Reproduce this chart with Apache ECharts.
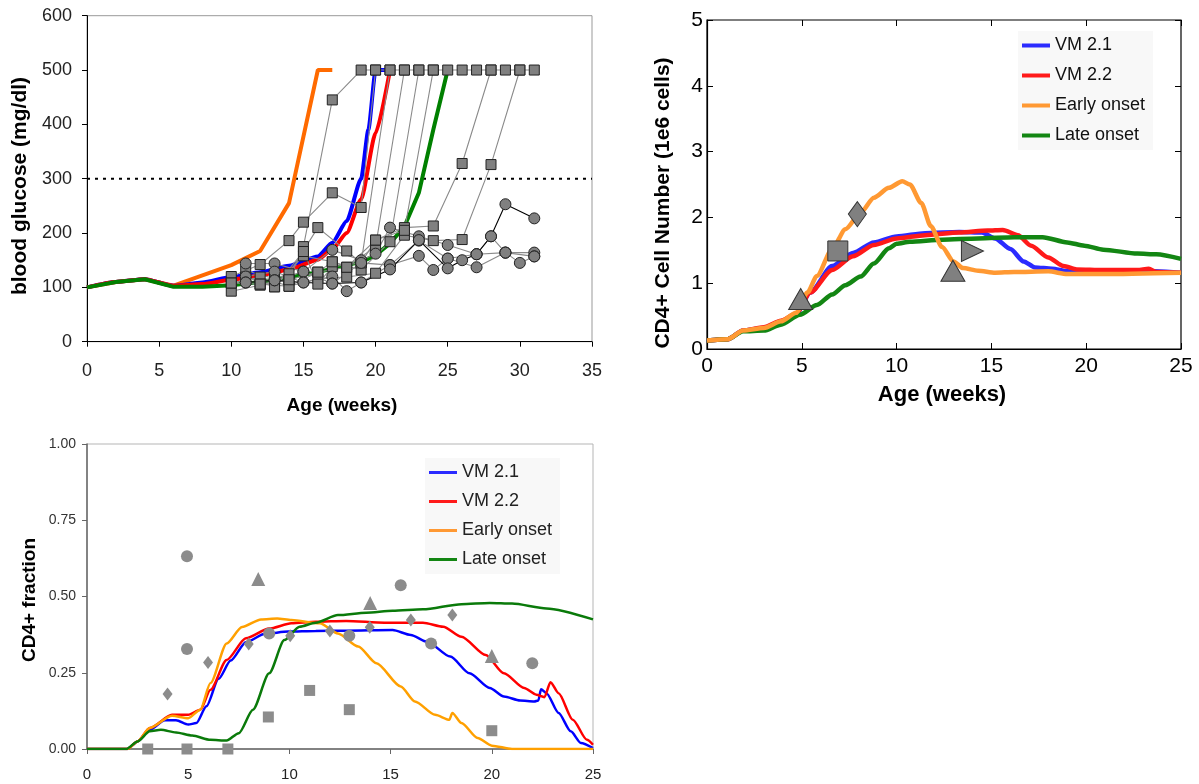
<!DOCTYPE html>
<html><head><meta charset="utf-8">
<script src="https://cdn.jsdelivr.net/npm/echarts@6/dist/echarts.min.js"></script>
<style>html,body{margin:0;padding:0;background:#fff}#c{width:1199px;height:784px}</style>
</head><body><div id="c"></div>
<script>
// ================= DATA =================
// Panel 1: blood glucose (mg/dl) vs age (weeks)
const threshold = [[0, 300], [35, 300]];
const gOrange = [[0,100],[2,110],[4,115],[6,103],[8,122],[10,141],[12,167],[14,255],[16,500],[17,500]];
const gBlue = [[0,100],[2,110],[4,115],[6,103],[8,109],[10,119],[12,128],[14,140],[16,157],[17,182],[18,222],[19,300],[19.5,390],[20,500],[21,500]];
const gRed = [[0,100],[2,110],[4,115],[6,103],[8,106],[10,114],[12,122],[14,133],[16,151],[17,170],[18,200],[19,262],[20,384],[21,500]];
const gGreen = [[0,100],[2,110],[4,115],[6,101],[8,101],[10,104],[12,110],[14,118],[16,128],[18,141],[19,147],[20,159],[21,181],[22,212],[23,274],[24,390],[25,500]];

// individual mice (square markers)
const mouseSqA = [[10,93],[12,104],[14,114],[15,175],[17,445],[19,500],[20,500],[21,500],[22,500],[23,500],[24,500],[25,500],[26,500],[27,500],[28,500],[29,500],[30,500],[31,500]];
const mouseSqB = [[10,120],[12,142],[14,186],[15,220],[17,274],[19,247],[20,500]];
const mouseSqC = [[11,131],[13,116],[14,125],[16,210],[18,167],[19,145],[21,500]];
const mouseSqD = [[10,108],[12,119],[14,102],[16,128],[18,137],[20,175],[22,500]];
const mouseSqE = [[11,119],[13,101],[15,158],[17,147],[19,132],[21,184],[23,500]];
const mouseSqF = [[12,106],[14,102],[16,116],[18,119],[20,126],[22,196],[24,186],[26,188],[28,326],[30,500]];
const mouseSqG = [[13,101],[15,166],[16,106],[17,138],[19,145],[20,187],[22,210],[24,213],[26,328],[28,500]];
const mouseSqH = [[10,108],[12,106],[14,114],[16,128],[17,147],[18,137],[20,187],[22,205],[24,500]];
// individual mice (circle markers)
const mouseCiA = [[11,109],[13,113],[15,109],[17,107],[19,109],[21,133],[23,187],[25,135],[26,150],[27,161],[28,194],[29,253],[31,227]];
const mouseCiB = [[11,144],[13,144],[15,129],[17,169],[19,150],[20,162],[21,210],[23,194],[25,178],[27,161],[29,164],[31,164]];
const mouseCiC = [[11,120],[13,129],[15,109],[17,120],[18,93],[19,109],[21,141],[23,158],[24,132],[25,153],[27,137],[29,164],[30,145],[31,157]];
const mouseCiD = [[11,109],[13,113],[15,129],[17,107],[19,145],[21,141],[23,186],[25,153],[27,161],[28,194],[29,164],[31,157]];

// Panel 2: CD4+ cell number (1e6 cells)
const cBlue = [[0,0.13],[1.1,0.15],[1.9,0.28],[3,0.32],[3.9,0.42],[4.7,0.53],[5.45,0.86],[6.6,1.26],[7.7,1.46],[8.8,1.62],[10,1.71],[11.5,1.76],[13.3,1.78],[14.5,1.77],[15.2,1.68],[16,1.52],[16.7,1.33],[17.3,1.24],[18.2,1.22],[19,1.18],[20.9,1.16],[22.7,1.19],[25,1.16]];
const cRed = [[0,0.13],[1.1,0.15],[1.9,0.28],[3,0.33],[3.9,0.43],[4.7,0.54],[5.45,0.86],[6.6,1.2],[7.7,1.41],[8.8,1.58],[10,1.68],[11.5,1.73],[13.3,1.77],[14.8,1.8],[15.6,1.81],[16.4,1.73],[17.1,1.57],[18,1.39],[18.8,1.26],[19.5,1.21],[20.9,1.2],[22.7,1.2],[23.3,1.22],[23.7,1.17],[25,1.16]];
const cOrange = [[0,0.13],[1.1,0.15],[1.9,0.28],[3,0.32],[3.9,0.42],[4.7,0.55],[5.3,0.86],[5.8,1.11],[6.6,1.52],[7.3,1.82],[8.1,2.07],[8.8,2.3],[9.6,2.45],[10.3,2.55],[10.7,2.5],[11.3,2.22],[11.8,1.87],[12.4,1.55],[13,1.33],[13.5,1.23],[14.3,1.19],[15.2,1.16],[16.2,1.17],[18,1.18],[19,1.14],[20.9,1.14],[25,1.16]];
const cGreen = [[0,0.13],[1.1,0.15],[1.9,0.27],[3,0.28],[3.9,0.37],[4.9,0.52],[5.8,0.67],[6.6,0.83],[7.3,0.97],[8.1,1.1],[8.8,1.3],[9.6,1.53],[10,1.6],[10.7,1.63],[12.4,1.66],[14.3,1.68],[16.2,1.7],[17.7,1.7],[19,1.62],[19.9,1.57],[20.9,1.51],[22.7,1.45],[23.7,1.44],[25,1.37]];
const cntTriangle = [[4.94,0.76],[12.97,1.19]];
const cntSquare = [[6.9,1.49]];
const cntDiamond = [[7.93,2.05]];
const cntRightTri = [[14.0,1.49]];

// Panel 3: CD4+ fraction
const fBlue = [[0,0],[2,0],[2.5,0.025],[3.1,0.063],[3.85,0.094],[4.4,0.094],[5,0.08],[5.4,0.085],[5.9,0.14],[6.5,0.23],[7.1,0.29],[7.85,0.35],[8.8,0.378],[9.95,0.385],[11.3,0.387],[12.8,0.388],[15.1,0.39],[16,0.374],[16.8,0.352],[17.95,0.303],[18.9,0.248],[19.9,0.2],[20.6,0.172],[21.4,0.159],[22.1,0.156],[22.3,0.159],[22.43,0.196],[22.7,0.183],[23.3,0.118],[23.9,0.058],[24.4,0.02],[25,0.003]];
const fRed = [[0,0],[2,0],[2.5,0.025],[3.1,0.069],[4.2,0.112],[5,0.112],[5.6,0.129],[6.1,0.194],[6.9,0.292],[7.85,0.363],[9,0.395],[10.1,0.412],[11.3,0.417],[12.8,0.42],[14.7,0.414],[16.6,0.414],[17.6,0.401],[18.5,0.368],[19.7,0.308],[20.6,0.248],[21.6,0.2],[22.2,0.178],[22.6,0.17],[22.9,0.219],[23.3,0.183],[24,0.096],[24.7,0.03],[25,0.014]];
const fOrange = [[0,0],[2,0],[2.5,0.025],[3.1,0.069],[4.2,0.109],[5,0.101],[5.6,0.129],[6.1,0.216],[6.9,0.346],[7.66,0.4],[8.6,0.425],[9.4,0.428],[10.1,0.423],[11.5,0.412],[12.4,0.379],[13.4,0.336],[14.3,0.281],[15.5,0.205],[16.2,0.156],[17.2,0.112],[17.9,0.096],[18.05,0.118],[18.5,0.085],[19.3,0.036],[20,0.011],[21,0],[25,0]];
const fGreen = [[0,0],[1.95,0],[2.5,0.025],[3.1,0.058],[3.65,0.063],[4.4,0.054],[5.2,0.044],[6.1,0.03],[6.9,0.028],[7.5,0.052],[8.2,0.129],[9,0.248],[9.75,0.357],[10.5,0.401],[11.3,0.414],[12.4,0.439],[13.8,0.447],[15.1,0.453],[16.6,0.458],[18.5,0.475],[19.9,0.479],[21,0.477],[22.7,0.461],[25,0.425]];
const fracCircle = [[4.94,0.632],[4.94,0.328],[9,0.379],[12.96,0.371],[15.5,0.537],[17,0.346],[22,0.281]];
const fracDiamond = [[3.98,0.18],[5.98,0.284],[7.99,0.344],[10.04,0.371],[12,0.387],[13.97,0.399],[16,0.423],[18.05,0.439]];
const fracTriangle = [[8.46,0.557],[13.99,0.479],[20,0.305]];
const fracSquare = [[3,0],[4.94,0],[6.96,0],[8.96,0.105],[11,0.192],[12.96,0.129],[20,0.06]];

const legendNames = ['VM 2.1', 'VM 2.2', 'Early onset', 'Late onset'];

// ================= CHART =================
const FONT = 'Liberation Sans, Arial, Helvetica, sans-serif';
const chart = echarts.init(document.getElementById('c'), null, {renderer: 'canvas'});

function mouseSeries(data, sym, lineColor) {
  return {
    type: 'line', xAxisIndex: 0, yAxisIndex: 0, data: data, silent: true,
    symbol: sym, symbolSize: sym === 'rect' ? 10 : 11,
    itemStyle: {color: '#808080', borderColor: '#222', borderWidth: 1},
    lineStyle: {color: lineColor, width: 1.1}, z: 5, animation: false
  };
}
function curve(name, data, color, width, xi, yi, z) {
  return {
    name: name, type: 'line', xAxisIndex: xi, yAxisIndex: yi, data: data,
    symbol: 'none', smooth: 0.25, smoothMonotone: 'x', color: color,
    lineStyle: {color: color, width: width}, itemStyle: {color: color}, z: z || 3, animation: false
  };
}
function scatter(data, sym, size, xi, yi, border, rotate) {
  return {
    type: 'scatter', xAxisIndex: xi, yAxisIndex: yi, data: data, symbol: sym, symbolSize: size,
    symbolRotate: rotate || 0,
    itemStyle: {color: border ? '#808080' : '#8c8c8c', borderColor: border ? '#333' : 'transparent', borderWidth: border ? 1 : 0, opacity: 1},
    z: 6, animation: false, silent: true
  };
}

const option = {
  animation: false,
  backgroundColor: '#fff',
  textStyle: {fontFamily: FONT},
  grid: [
    {left: 87, top: 15.7, width: 505, height: 326, show: true, borderColor: '#999', borderWidth: 1, backgroundColor: 'transparent'},
    {left: 707, top: 20, width: 474, height: 329, show: true, borderColor: '#000', borderWidth: 1.2, backgroundColor: 'transparent'},
    {left: 87, top: 444, width: 506, height: 305, show: true, borderColor: '#b5b5b5', borderWidth: 1, backgroundColor: 'transparent'}
  ],
  xAxis: [
    {gridIndex: 0, type: 'value', min: 0, max: 35, interval: 5, splitLine: {show: false},
     axisLine: {lineStyle: {color: '#000', width: 1}}, axisTick: {length: 5, lineStyle: {color: '#000'}},
     axisLabel: {fontSize: 18, color: '#222', margin: 20, fontFamily: FONT}},
    {gridIndex: 1, type: 'value', min: 0, max: 25, interval: 5, splitLine: {show: false},
     axisLine: {lineStyle: {color: '#000', width: 1.2}}, axisTick: {inside: true, length: 6, lineStyle: {color: '#000'}},
     axisLabel: {fontSize: 21, color: '#000', margin: 7, fontFamily: FONT}},
    {gridIndex: 2, type: 'value', min: 0, max: 25, interval: 5, splitLine: {show: false},
     axisLine: {lineStyle: {color: '#666', width: 1.5}}, axisTick: {length: 5, lineStyle: {color: '#666'}},
     axisLabel: {fontSize: 15, color: '#222', margin: 18, fontFamily: FONT}},
    {gridIndex: 1, type: 'value', min: 0, max: 25, interval: 5, position: 'top', splitLine: {show: false},
     axisLine: {show: false, onZero: false}, axisTick: {show: true, inside: true, length: 6, lineStyle: {color: '#000'}}, axisLabel: {show: false}}
  ],
  yAxis: [
    {gridIndex: 0, type: 'value', min: 0, max: 600, interval: 100, splitLine: {show: false},
     axisLine: {show: true, lineStyle: {color: '#000', width: 1}}, axisTick: {show: true, length: 5, lineStyle: {color: '#000'}},
     axisLabel: {fontSize: 18, color: '#222', margin: 15, fontFamily: FONT}},
    {gridIndex: 1, type: 'value', min: 0, max: 5, interval: 1, splitLine: {show: false},
     axisLine: {show: true, lineStyle: {color: '#000', width: 1.2}}, axisTick: {show: true, inside: true, length: 6, lineStyle: {color: '#000'}},
     axisLabel: {fontSize: 21, color: '#000', margin: 4, fontFamily: FONT}},
    {gridIndex: 2, type: 'value', min: 0, max: 1, interval: 0.25, splitLine: {show: false},
     axisLine: {show: true, lineStyle: {color: '#666', width: 1.5}}, axisTick: {show: true, length: 5, lineStyle: {color: '#666'}},
     axisLabel: {fontSize: 14, color: '#333', margin: 11, fontFamily: FONT, formatter: v => v.toFixed(2)}},
    {gridIndex: 1, type: 'value', min: 0, max: 5, interval: 1, position: 'right', splitLine: {show: false},
     axisLine: {show: false, onZero: false}, axisTick: {show: true, inside: true, length: 6, lineStyle: {color: '#000'}}, axisLabel: {show: false}}
  ],
  legend: [
    {data: legendNames, orient: 'vertical', left: 1018, top: 31, icon: 'rect', itemWidth: 28, itemHeight: 4, itemGap: 9,
     backgroundColor: '#f8f8f8', padding: [4, 8, 4, 4],
     textStyle: {fontSize: 18, color: '#111', fontFamily: FONT, lineHeight: 21}, selectedMode: false},
    {data: legendNames, orient: 'vertical', left: 425, top: 458, icon: 'rect', itemWidth: 28, itemHeight: 3, itemGap: 8,
     backgroundColor: '#f8f8f8', padding: [4, 8, 4, 4],
     textStyle: {fontSize: 18, color: '#222', fontFamily: FONT, lineHeight: 21}, selectedMode: false}
  ],
  graphic: [
    {type: 'text', x: 20, y: 186, rotation: Math.PI / 2, style: {text: 'blood glucose (mg/dl)', font: 'bold 21px ' + FONT, fill: '#000', textAlign: 'center', textVerticalAlign: 'middle'}},
    {type: 'text', x: 342, y: 406, style: {text: 'Age (weeks)', font: 'bold 19px ' + FONT, fill: '#000', textAlign: 'center', textVerticalAlign: 'middle'}},
    {type: 'text', x: 663, y: 203, rotation: Math.PI / 2, style: {text: 'CD4+ Cell Number (1e6 cells)', font: 'bold 21px ' + FONT, fill: '#000', textAlign: 'center', textVerticalAlign: 'middle'}},
    {type: 'text', x: 942, y: 395, style: {text: 'Age (weeks)', font: 'bold 22px ' + FONT, fill: '#000', textAlign: 'center', textVerticalAlign: 'middle'}},
    {type: 'text', x: 30, y: 600, rotation: Math.PI / 2, style: {text: 'CD4+ fraction', font: 'bold 19px ' + FONT, fill: '#000', textAlign: 'center', textVerticalAlign: 'middle'}}
  ],
  series: [
    // panel 1
    {type: 'line', xAxisIndex: 0, yAxisIndex: 0, data: threshold, symbol: 'none', silent: true,
     lineStyle: {color: '#000', width: 2, type: [3, 5]}, z: 2},
    {name: 'g-orange', type: 'line', xAxisIndex: 0, yAxisIndex: 0, data: gOrange, symbol: 'none', lineStyle: {color: '#ff6a00', width: 4}, z: 3},
    {name: 'g-blue', type: 'line', xAxisIndex: 0, yAxisIndex: 0, data: gBlue, symbol: 'none', smooth: 0.2, smoothMonotone: 'x', lineStyle: {color: '#0000ff', width: 4}, z: 3},
    {name: 'g-red', type: 'line', xAxisIndex: 0, yAxisIndex: 0, data: gRed, symbol: 'none', smooth: 0.2, smoothMonotone: 'x', lineStyle: {color: '#ff0000', width: 4}, z: 3},
    {name: 'g-green', type: 'line', xAxisIndex: 0, yAxisIndex: 0, data: gGreen, symbol: 'none', lineStyle: {color: '#008000', width: 4}, z: 3},
    mouseSeries(mouseSqA, 'rect', '#8a8a8a'),
    mouseSeries(mouseSqB, 'rect', '#8a8a8a'),
    mouseSeries(mouseSqC, 'rect', '#8a8a8a'),
    mouseSeries(mouseSqD, 'rect', '#8a8a8a'),
    mouseSeries(mouseSqE, 'rect', '#8a8a8a'),
    mouseSeries(mouseSqF, 'rect', '#8a8a8a'),
    mouseSeries(mouseSqG, 'rect', '#8a8a8a'),
    mouseSeries(mouseSqH, 'rect', '#8a8a8a'),
    mouseSeries(mouseCiB, 'circle', '#8a8a8a'),
    mouseSeries(mouseCiC, 'circle', '#8a8a8a'),
    mouseSeries(mouseCiD, 'circle', '#8a8a8a'),
    mouseSeries(mouseCiA, 'circle', '#000'),
    // panel 2
    curve('VM 2.1', cBlue, '#2b2bff', 4.5, 1, 1),
    curve('VM 2.2', cRed, '#ff1a1a', 4.5, 1, 1),
    curve('Late onset', cGreen, '#138613', 4.5, 1, 1),
    curve('Early onset', cOrange, '#ff9933', 4.5, 1, 1),
    scatter(cntTriangle, 'triangle', [24, 21], 1, 1, true),
    scatter(cntSquare, 'rect', 20, 1, 1, true),
    scatter(cntDiamond, 'diamond', [18, 25], 1, 1, true),
    scatter(cntRightTri, 'triangle', [21, 22], 1, 1, true, -90),
    // panel 3
    curve('VM 2.1', fBlue, '#0000ff', 2.5, 2, 2),
    curve('VM 2.2', fRed, '#ff0000', 2.5, 2, 2),
    curve('Early onset', fOrange, '#ffa000', 2.5, 2, 2),
    curve('Late onset', fGreen, '#0a7a0a', 2.5, 2, 2),
    scatter(fracCircle, 'circle', 12, 2, 2, false),
    scatter(fracDiamond, 'diamond', [10, 13], 2, 2, false),
    scatter(fracTriangle, 'triangle', 14, 2, 2, false),
    scatter(fracSquare, 'rect', 11, 2, 2, false)
  ]
};
chart.setOption(option);
</script>
</body></html>
